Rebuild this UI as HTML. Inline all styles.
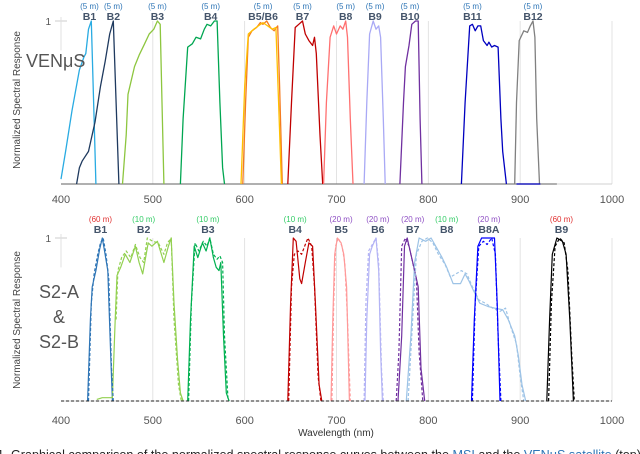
<!DOCTYPE html>
<html><head><meta charset="utf-8">
<style>
html,body{margin:0;padding:0;background:#fff;}
body{width:640px;height:454px;overflow:hidden;position:relative;font-family:"Liberation Sans",sans-serif;}
svg{position:absolute;left:0;top:0;}
</style></head>
<body>
<svg id="chart" width="640" height="454" viewBox="0 0 640 454"></svg>
<script>
// ---- data ----
const xTicks=[400,500,600,700,800,900,1000];
const venNames=["B1","B2","B3","B4","B5","B6","B7","B8","B9","B10","B11","B12"];
const venColors=["#29abe2","#1f3a5f","#8dc63f","#00a651","#f47b20","#ffc000","#c00000","#ff7070","#a9a9f5","#7030a0","#0000c0","#808080"];
const venB1=[[400,0.03],[405,0.2],[412,0.45],[420,0.7],[425,0.78],[427,0.8],[430,0.95],[433,1],[436,0.4],[438,0]];
const venB2=[[417,0],[420,0.1],[423,0.14],[430,0.2],[437,0.38],[443,0.6],[448,0.75],[453,0.92],[457,1],[460,0.5],[463,0]];
const venB3=[[467,0],[471,0.3],[473,0.55],[480,0.72],[485,0.79],[491,0.86],[496,0.92],[501,0.95],[505,1],[508,0.98],[510,0.5],[512,0]];
const venB4=[[530,0],[533,0.4],[538,0.84],[543,0.86],[547,0.9],[552,0.89],[556,0.95],[559,0.98],[563,0.97],[567,1],[570,1],[573,0.5],[576,0.1],[578,0]];
const venB5=[[598,0],[601,0.5],[604,0.9],[608,0.94],[613,0.96],[617,0.99],[620,0.98],[624,1],[628,0.96],[632,0.94],[636,0.97],[638,0.6],[641,0]];
const venB6=[[596,0],[600,0.6],[604,0.92],[610,0.95],[615,0.97],[620,0.99],[625,0.97],[630,0.95],[634,0.96],[637,0.5],[640,0]];
const venB7=[[647,0],[651,0.5],[655,0.96],[659,0.98],[663,1],[666,0.92],[670,0.88],[674,0.85],[676,0.9],[678,0.8],[682,0.3],[685,0]];
const venB8=[[686,0],[689,0.5],[693,0.9],[697,0.97],[700,0.92],[704,0.97],[707,0.95],[710,1],[712,0.9],[715,0.4],[718,0]];
const venB9=[[730,0],[733,0.5],[736,0.92],[740,1],[743,0.95],[746,0.97],[748,0.9],[751,0.4],[753,0]];
const venB10=[[769,0],[773,0.5],[775,0.72],[779,0.85],[782,0.98],[786,1],[789,1],[791,0.4],[793,0]];
const venB11=[[836,0],[840,0.5],[845,0.97],[848,0.98],[851,0.94],[854,0.97],[857,0.97],[860,0.88],[864,0.85],[866,0.87],[869,0.84],[872,0.85],[876,0.84],[879,0.4],[881,0.2],[885,0]];
const venB12=[[894,0],[896,0.5],[899,0.88],[904,0.94],[908,0.93],[911,0.97],[914,1],[916,0.9],[918,0.4],[921,0]];
const venLabelNm=[431,457,505,563,620,663,710,742,780,848,914];
const venLabels=["B1","B2","B3","B4","B5/B6","B7","B8","B9","B10","B11","B12"];
const s2Names=["B1","B2","B3","B4","B5","B6","B7","B8","B8A","B9"];
const s2Colors=["#2e75b6","#92d050","#00b050","#c00000","#ff9999","#b4b4f5","#7030a0","#9dc3e6","#0000ff","#000000"];
const s2aB1=[[429,0],[432,0.5],[434,0.7],[438,0.8],[442,0.93],[445,1],[448,0.9],[451,0.8],[454,0.3],[456,0]];
const s2bB1=[[430,0],[433,0.6],[436,0.78],[440,0.9],[443,0.97],[446,1],[449,0.9],[452,0.75],[455,0.2],[457,0]];
const s2aB2=[[439,0.01],[445,0.02],[456,0.02],[459,0.5],[461,0.77],[465,0.82],[470,0.9],[475,0.85],[481,0.95],[485,0.85],[489,0.78],[495,0.97],[499,0.95],[505,0.98],[512,0.85],[517,0.95],[520,1],[523,0.6],[527,0.25],[530,0.05],[533,0]];
const s2bB2=[[460,0.5],[462,0.8],[466,0.88],[471,0.92],[476,0.88],[481,0.96],[486,0.88],[490,0.85],[494,1],[500,0.98],[506,0.97],[512,0.9],[516,0.97],[520,1],[523,0.5],[528,0.1],[531,0]];
const s2aB3=[[538,0],[541,0.5],[545,0.95],[549,0.88],[554,0.97],[558,0.92],[562,1],[566,0.88],[569,0.82],[572,0.8],[574,0.85],[577,0.4],[580,0.05],[583,0]];
const s2bB3=[[539,0],[542,0.6],[546,0.97],[550,0.92],[555,0.98],[559,0.95],[562,1],[566,0.9],[570,0.87],[573,0.89],[576,0.85],[578,0.4],[582,0]];
const s2aB4=[[647,0],[650,0.6],[653,1],[656,0.98],[660,0.75],[662,0.72],[666,0.85],[670,0.97],[674,0.95],[677,0.6],[681,0.1],[684,0]];
const s2bB4=[[648,0],[651,0.7],[654,0.9],[658,0.92],[662,0.9],[666,0.96],[669,1],[673,0.95],[676,0.7],[680,0.15],[683,0]];
const s2aB5=[[694,0],[696,0.5],[698,0.9],[701,1],[705,0.97],[708,0.9],[711,0.7],[714,0]];
const s2bB5=[[695,0],[697,0.6],[699,0.95],[702,1],[706,0.95],[709,0.85],[712,0.5],[715,0]];
const s2aB6=[[731,0],[733,0.5],[736,0.9],[739,0.95],[743,1],[746,0.8],[748,0.3],[750,0]];
const s2bB6=[[730,0],[732,0.6],[735,0.92],[740,0.97],[743,1],[746,0.85],[749,0.2],[751,0]];
const s2aB7=[[767,0],[771,0.4],[774,0.95],[777,1],[781,0.9],[785,0.8],[789,0.7],[792,0.2],[796,0]];
const s2bB7=[[765,0],[768,0.3],[771,0.95],[775,1],[779,0.95],[783,0.85],[787,0.75],[790,0.3],[794,0]];
const s2aB8=[[776,0],[781,0.4],[785,0.85],[790,1],[797,0.98],[803,1],[808,0.95],[815,0.88],[820,0.82],[827,0.72],[835,0.72],[840,0.78],[844,0.74],[849,0.68],[856,0.6],[865,0.58],[872,0.57],[881,0.56],[887,0.5],[894,0.4],[898,0.28],[902,0.1],[906,0]];
const s2bB8=[[778,0],[783,0.5],[787,0.9],[793,0.98],[799,1],[805,0.97],[811,0.9],[818,0.84],[824,0.76],[830,0.78],[836,0.8],[842,0.78],[848,0.7],[855,0.62],[862,0.6],[870,0.57],[878,0.55],[884,0.57],[890,0.45],[896,0.35],[900,0.15],[904,0]];
const s2aB8A=[[847,0],[850,0.5],[854,0.95],[858,1],[864,1],[872,1],[875,0.6],[878,0]];
const s2bB8A=[[848,0],[851,0.6],[855,0.95],[860,0.98],[864,0.96],[869,1],[873,0.9],[876,0.4],[879,0]];
const s2aB9=[[929,0],[932,0.5],[935,0.9],[940,1],[946,0.98],[950,0.9],[954,0.5],[958,0]];
const s2bB9=[[931,0],[934,0.6],[938,0.95],[943,1],[948,0.97],[952,0.8],[956,0.3],[959,0]];
const s2LabelNm=[443,490,560,655,705,745,783,820,866,945];
const s2Res=["(60 m)","(10 m)","(10 m)","(10 m)","(20 m)","(20 m)","(20 m)","(10 m)","(20 m)","(60 m)"];
const s2ResColors=["#e03030","#33cc66","#33cc66","#33cc66","#8e4fc4","#8e4fc4","#8e4fc4","#33cc66","#8e4fc4","#e03030"];

// ---- axes ----
const X0=61, X1=612;
function xs(nm){return X0+(nm-400)*(X1-X0)/600;}
function ysTop(v){return 184-v*(184-21);}
function ysBot(v){return 401-v*(401-238);}

const svg=document.getElementById('chart');
const NS="http://www.w3.org/2000/svg";
function el(tag,attrs,parent){const e=document.createElementNS(NS,tag);for(const k in attrs)e.setAttribute(k,attrs[k]);(parent||svg).appendChild(e);return e;}
function txt(x,y,s,size,fill,anchor,weight){const t=el('text',{x:x,y:y,'font-size':size,fill:fill,'text-anchor':anchor||'middle','font-weight':weight||'normal'});t.textContent=s;return t;}

function panel(ys,name){
  const g=el('g',{});
  
  
  xTicks.forEach(t=>{ if(t>400){const l=el('line',{x1:xs(t),x2:xs(t),y1:ys(1),y2:ys(0),stroke:'#dcdcdc','stroke-width':0.8},g);
    
    }});
  const ax=el('line',{x1:xs(400),x2:xs(1000),y1:ys(0),y2:ys(0),stroke:'#d0d0d0','stroke-width':1},g);
  
  
  const tk=el('line',{x1:xs(400)-6,x2:xs(400)+6,y1:ys(1),y2:ys(1),stroke:'#ccc','stroke-width':1},g);
  
  
  const yl=txt(xs(400)-10,ys(1)+4,"1",10,'#555','end');
  g.appendChild(yl);
  
  
  const vl=el('line',{x1:xs(400),x2:xs(400),y1:ys(1)-4,y2:ys(0.82),stroke:'#e0e0e0','stroke-width':1},g);
  
  
  return g;
}
function curve(g,pts,ys,color,dash,name,w){
  const d=pts.map((p,i)=>(i?'L':'M')+xs(p[0]).toFixed(1)+','+ys(p[1]).toFixed(1)).join(' ');
  const p=el('path',{d:d,fill:'none',stroke:color,'stroke-width':w||1.3,'stroke-linejoin':'round'},g);
  if(dash)p.setAttribute('stroke-dasharray','3,2');
  
  
}

const gt=panel(ysTop,'venus-panel');
const tb=el('line',{x1:xs(400),x2:xs(940),y1:ysTop(0),y2:ysTop(0),stroke:'#808080','stroke-width':1.3},gt);


const venData=[venB1,venB2,venB3,venB4,venB5,venB6,venB7,venB8,venB9,venB10,venB11,venB12];
venData.forEach((d,i)=>curve(gt,d,ysTop,venColors[i],false,'venus-curve-'+venNames[i].toLowerCase(),1.3));
const bl=el('line',{x1:xs(896),x2:xs(922),y1:ysTop(0),y2:ysTop(0),stroke:'#0000c0','stroke-width':1.3},gt);


venLabelNm.forEach((nm,i)=>{
  const r=txt(xs(nm),9,"(5 m)",8,'#2e75b6');
  
  
  const t=txt(xs(nm),20,venLabels[i],10.5,'#44546a','middle','bold');
  
  
});
xTicks.forEach(t=>{const l=txt(xs(t),203,String(t),11,'#555');
  
  });

const gb=panel(ysBot,'sentinel2-panel');
const s2a=[s2aB1,s2aB2,s2aB3,s2aB4,s2aB5,s2aB6,s2aB7,s2aB8,s2aB8A,s2aB9];
const s2b=[s2bB1,s2bB2,s2bB3,s2bB4,s2bB5,s2bB6,s2bB7,s2bB8,s2bB8A,s2bB9];
s2a.forEach((d,i)=>curve(gb,d,ysBot,s2Colors[i],false,'s2a-curve-'+s2Names[i].toLowerCase(),1.2));
s2b.forEach((d,i)=>curve(gb,d,ysBot,s2Colors[i],true,'s2b-curve-'+s2Names[i].toLowerCase(),1.2));
const db=el('line',{x1:xs(400),x2:xs(1000),y1:ysBot(0),y2:ysBot(0),stroke:'#222','stroke-width':1.1,'stroke-dasharray':'3,2'},gb);


s2LabelNm.forEach((nm,i)=>{
  const r=txt(xs(nm),222,s2Res[i],8,s2ResColors[i]);
  
  
  const t=txt(xs(nm),233,s2Names[i],10.5,'#44546a','middle','bold');
  
  
});
xTicks.forEach(t=>{const l=txt(xs(t),424,String(t),11,'#555');
  
  });
</script>
<svg width="640" height="454" style="pointer-events:none">
  <text x="20" y="100" transform="rotate(-90 20 100)" text-anchor="middle" font-size="10" fill="#444" font-family="Liberation Sans, sans-serif">Normalized Spectral Response</text>
  <text x="20" y="320" transform="rotate(-90 20 320)" text-anchor="middle" font-size="10" fill="#444" font-family="Liberation Sans, sans-serif">Normalized Spectral Response</text>
  <text x="26" y="67" font-size="18" fill="#555" font-family="Liberation Sans, sans-serif">VENμS</text>
  <text x="59" y="298" font-size="18" fill="#555" text-anchor="middle" font-family="Liberation Sans, sans-serif">S2-A</text>
  <text x="59" y="323" font-size="18" fill="#555" text-anchor="middle" font-family="Liberation Sans, sans-serif">&amp;</text>
  <text x="59" y="348" font-size="18" fill="#555" text-anchor="middle" font-family="Liberation Sans, sans-serif">S2-B</text>
  <text x="336" y="436" font-size="10" fill="#333" text-anchor="middle" font-family="Liberation Sans, sans-serif">Wavelength (nm)</text>
  <text x="-3" y="459" font-size="13" fill="#222" textLength="644" lengthAdjust="spacingAndGlyphs" font-family="Liberation Sans, sans-serif">1. Graphical comparison of the normalized spectral response curves between the <tspan fill="#2e75b6">MSI</tspan> and the <tspan fill="#2e75b6">VENμS satellite</tspan> (top)</text>
</svg>
</body></html>
